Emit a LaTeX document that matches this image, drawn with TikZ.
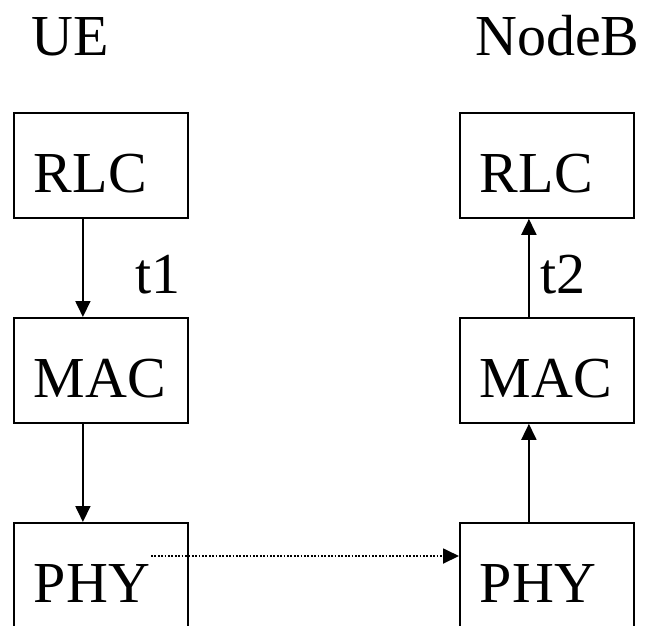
\documentclass[tikz,border=0pt]{standalone}
\usepackage{fontspec}
\setmainfont{Liberation Serif}
\usetikzlibrary{arrows.meta}
\tikzset{
  layer/.style={draw, line width=1.8pt, rectangle, inner xsep=20pt, inner ysep=0pt,
    minimum width=174pt, minimum height=105pt, text width=134pt, align=left,
    text height=55pt, text depth=0pt, anchor=north west, font=\fontsize{58}{60}\selectfont},
  lbl/.style={anchor=base west, inner sep=0pt, font=\fontsize{58}{60}\selectfont},
  arr/.style={line width=1.8pt, -{Triangle[length=16pt,width=15pt]}},
  dotarr/.style={line width=1.8pt, dash pattern=on 1.8pt off 1.6pt, -{Triangle[length=16pt,width=15pt]}}
}
\begin{document}
\begin{tikzpicture}[x=1pt,y=-1pt]
\useasboundingbox (0,0) rectangle (645,625);
\clip (0,0) rectangle (645,625);
\node[lbl] (ue) at (31,55) {UE};
\node[lbl] (nb) at (475,55) {NodeB};
\node[layer] (lrlc) at (13,112) {RLC};
\node[layer] (lmac) at (13,317) {MAC};
\node[layer] (lphy) at (13,522) {PHY};
\node[layer] (rrlc) at (459,112) {RLC};
\node[layer] (rmac) at (459,317) {MAC};
\node[layer] (rphy) at (459,522) {PHY};
\node[lbl] (t1) at (135,293) {t1};
\node[lbl] (t2) at (540,293) {t2};
\draw[arr] ([xshift=-18pt]lrlc.south) -- ([xshift=-18pt]lmac.north);
\draw[arr] ([xshift=-18pt]lmac.south) -- ([xshift=-18pt]lphy.north);
\draw[arr] ([xshift=-18pt]rmac.north) -- ([xshift=-18pt]rrlc.south);
\draw[arr] ([xshift=-18pt]rphy.north) -- ([xshift=-18pt]rmac.south);
\coordinate (ds) at (151,556);
\draw[dotarr] (ds) -- (ds -| rphy.west);
\end{tikzpicture}
\end{document}
